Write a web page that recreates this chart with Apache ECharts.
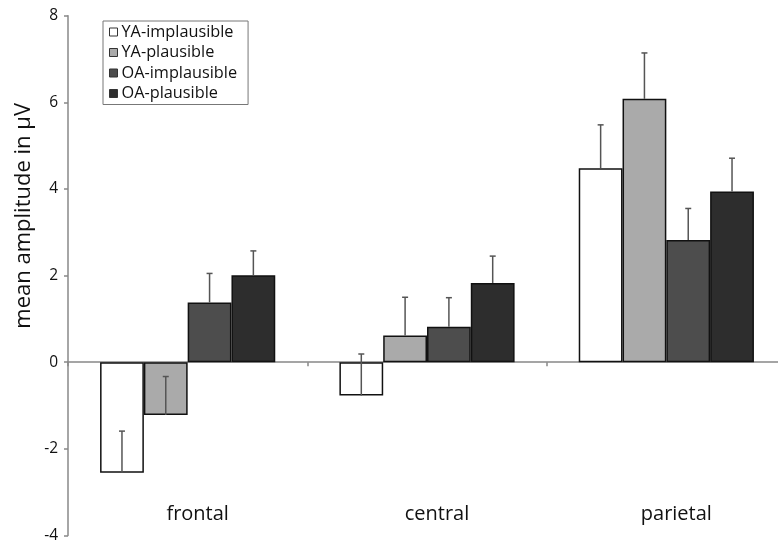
<!DOCTYPE html>
<html><head><meta charset="utf-8">
<script src="https://cdn.jsdelivr.net/npm/echarts@6/dist/echarts.min.js"></script>
<style>html,body{margin:0;padding:0;background:#fff}#c{width:778px;height:542px}</style>
</head><body><div id="c"></div>
<script>
var categories = ['frontal', 'central', 'parietal'];
var seriesNames = ['YA-implausible', 'YA-plausible', 'OA-implausible', 'OA-plausible'];
var yaImplausible = [-2.55, -0.77, 4.48];
var yaPlausible = [-1.22, 0.62, 6.08];
var oaImplausible = [1.38, 0.82, 2.82];
var oaPlausible = [2.01, 1.83, 3.94];
var yaImplausibleErr = [0.96, 0.96, 1.0];
var yaPlausibleErr = [0.89, 0.88, 1.06];
var oaImplausibleErr = [0.67, 0.67, 0.73];
var oaPlausibleErr = [0.56, 0.62, 0.77];
var yTicks = [-4, -2, 0, 2, 4, 6, 8];

var values = [yaImplausible, yaPlausible, oaImplausible, oaPlausible];
var errs = [yaImplausibleErr, yaPlausibleErr, oaImplausibleErr, oaPlausibleErr];
var colors = ['#ffffff', '#aaaaaa', '#4d4d4d', '#2d2d2d'];
var FONT = 'Open Sans';
var BAR_FRAC = 0.183;

var chart = echarts.init(document.getElementById('c'));
var series = [];
values.forEach(function (v, i) {
  series.push({
    name: seriesNames[i], type: 'bar', data: v, xAxisIndex: 0,
    barWidth: (BAR_FRAC * 100) + '%', barGap: '0%',
    itemStyle: { color: colors[i], borderColor: '#111', borderWidth: 1.5 },
    emphasis: { disabled: true }, z: 2
  });
});
values.forEach(function (v, i) {
  var data = v.map(function (val, k) { return [k, val, val + errs[i][k]]; });
  series.push({
    type: 'custom', xAxisIndex: 0, z: 3, silent: true,
    data: data,
    renderItem: function (params, api) {
      var k = api.value(0);
      var p0 = api.coord([k, api.value(1)]);
      var p1 = api.coord([k, api.value(2)]);
      var bw = api.size([1, 0])[0] * BAR_FRAC;
      var x = p0[0] + (i - 1.5) * bw;
      var st = { stroke: '#555', lineWidth: 1.5 };
      return { type: 'group', children: [
        { type: 'line', shape: { x1: x, y1: p0[1], x2: x, y2: p1[1] }, style: st },
        { type: 'line', shape: { x1: x - 3, y1: p1[1], x2: x + 3, y2: p1[1] }, style: st }
      ]};
    }
  });
});

chart.setOption({
  animation: false,
  grid: { left: 68, top: 15.7, width: 718, height: 519.8, outerBoundsMode: 'none', containLabel: false },
  legend: {
    orient: 'vertical', left: 103, top: 21,
    data: seriesNames,
    icon: 'rect', itemWidth: 8, itemHeight: 8, itemGap: 4.5,
    padding: [3, 11, 3, 6],
    borderColor: '#777', borderWidth: 1, backgroundColor: '#fff',
    textStyle: { fontFamily: FONT, fontSize: 16.3, color: '#111', lineHeight: 16, padding: [0, 0, 0, -1] },
    itemStyle: { borderColor: '#333', borderWidth: 1 },
    selectedMode: false
  },
  xAxis: [
    { type: 'category', data: categories,
      axisLine: { onZero: true, lineStyle: { color: '#888', width: 1.5 } },
      axisTick: { show: true, length: 4, lineStyle: { color: '#888', width: 1.5 } },
      axisLabel: { show: false } },
    { type: 'category', data: categories, position: 'bottom',
      axisLine: { show: false }, axisTick: { show: false },
      axisLabel: { fontFamily: FONT, fontSize: 20, color: '#111', margin: -31, padding: [0, 0, 0, 20] } }
  ],
  yAxis: {
    type: 'value', min: -4, max: 8, interval: 2,
    axisLine: { show: true, lineStyle: { color: '#888', width: 1.5 } },
    axisTick: { show: true, length: 4, lineStyle: { color: '#888', width: 1.5 } },
    splitLine: { show: false },
    axisLabel: { fontFamily: FONT, fontSize: 15.5, color: '#111', margin: 10,
      formatter: function (v) { return yTicks.indexOf(v) >= 0 ? String(v) : ''; } }
  },
  graphic: [{
    type: 'text', left: 13, top: 103, rotation: Math.PI / 2,
    style: { text: 'mean amplitude in µV', font: '22px "' + FONT + '"', fill: '#111' }
  }],
  series: series
});
</script></body></html>
